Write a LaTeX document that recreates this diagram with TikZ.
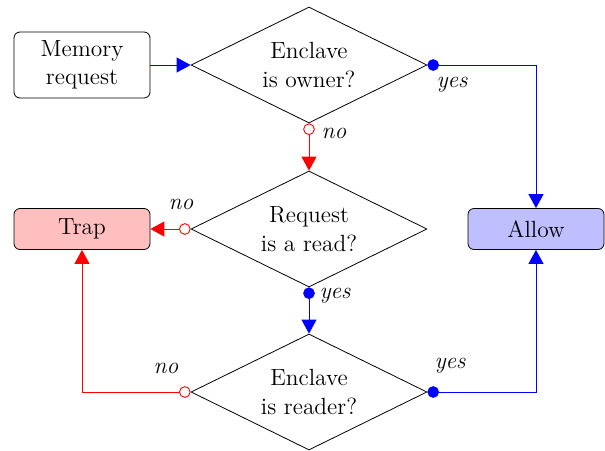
\documentclass[tikz,border=0pt]{standalone}
\usetikzlibrary{shapes.geometric,arrows.meta}
\begin{document}
\begin{tikzpicture}[x=0.5pt,y=-0.5pt,
  every node/.style={font=\fontsize{11.7}{14.2}\selectfont},
  procbox/.style={draw, rounded corners=3pt, minimum width=68pt, align=center, inner sep=0pt},
  decision/.style={draw, diamond, aspect=2, minimum width=118pt, minimum height=58pt, inner sep=0pt, align=center},
  edgeyes/.style={blue, line width=0.45pt},
  edgeno/.style={red, line width=0.45pt},
  lbl/.style={font=\fontsize{11.7}{14.2}\selectfont\itshape, inner sep=0pt},
  endtip/.style={-{Triangle[length=7pt,width=7.5pt]}},
  yesstart/.style={{Circle[length=5.8pt]}-{Triangle[length=7pt,width=7.5pt]}},
  nostart/.style={{Circle[open,length=5.8pt,fill=white]}-{Triangle[length=7pt,width=7.5pt]}}
]
\useasboundingbox (0,0) rectangle (605,450);
\node[procbox, minimum height=33pt] (mem) at (82,65) {Memory\\request};
\node[decision] (d1) at (309,65) {Enclave\\is owner?};
\node[decision] (d2) at (309,229) {Request\\is a read?};
\node[decision] (d3) at (309,392) {Enclave\\is reader?};
\node[procbox, minimum height=20.5pt, fill=red!25] (trap) at (82,229) {Trap};
\node[procbox, minimum height=20.5pt, fill=blue!25] (allow) at (536,229) {Allow};

\draw[edgeyes, endtip] (mem.east) -- (d1.west);
\draw[edgeno, nostart] (d1.south) -- (d2.north);
\draw[edgeyes, yesstart] (d1.east) -| (allow.north);
\draw[edgeno, nostart] (d2.west) -- (trap.east);
\draw[edgeyes, yesstart] (d2.south) -- (d3.north);
\draw[edgeyes, yesstart] (d3.east) -| (allow.south);
\draw[edgeno, nostart] (d3.west) -| (trap.south);

\node[lbl] (l1) at (334,133) {no};
\node[lbl] (l2) at (452,85) {yes};
\node[lbl] (l3) at (181,204) {no};
\node[lbl] (l4) at (335,296) {yes};
\node[lbl] (l5) at (166,368) {no};
\node[lbl] (l6) at (450,366) {yes};
\end{tikzpicture}
\end{document}
